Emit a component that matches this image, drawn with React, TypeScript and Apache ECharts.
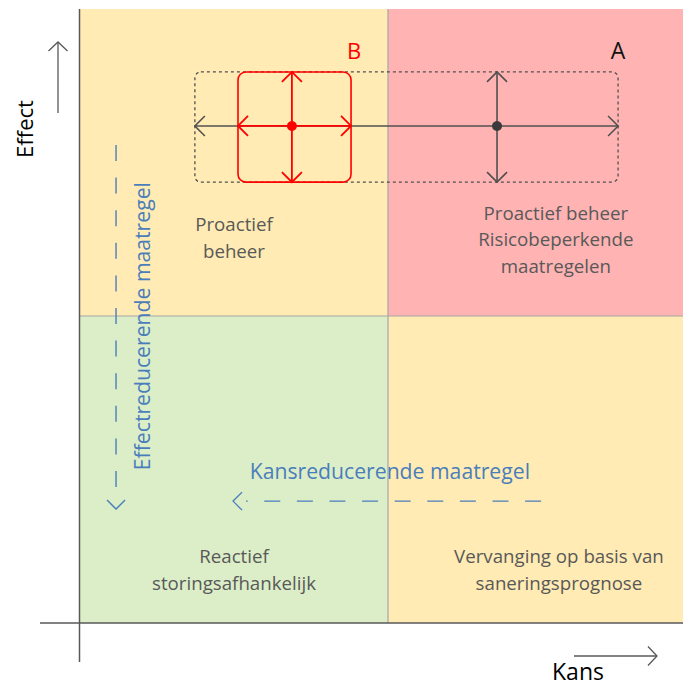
import { useEffect, useRef } from 'react';
import * as echarts from 'echarts';

// Axis domains: Kans (horizontal) and Effect (vertical); low/high split at 1
const kansDomain = [0, 2];
const effectDomain = [0, 2];
const splitAt = 1;

// Quadrants
const quadrantKans = [[0, 1], [1, 2], [0, 1], [1, 2]];
const quadrantEffect = [[1, 2], [1, 2], [0, 1], [0, 1]];
const quadrantLabels = [
  'Proactief\nbeheer',
  'Proactief beheer\nRisicobeperkende\nmaatregelen',
  'Reactief\nstoringsafhankelijk',
  'Vervanging op basis van\nsaneringsprognose',
];
const quadrantLabelKans = [0.5, 1.545, 0.5, 1.555];
const quadrantLabelEffect = [1.257, 1.251, 0.176, 0.176];

// Scenarios (point with uncertainty ranges)
const scenarioNames = ['A', 'B'];
const scenarioKans = [1.354, 0.688];
const scenarioEffect = [1.619, 1.619];
const scenarioKansRange = [[0.373, 1.747], [0.513, 0.88]];
const scenarioEffectRange = [[1.436, 1.795], [1.436, 1.795]];
const scenarioLabelKans = [1.747, 0.89];
const scenarioLabelEffect = [1.866, 1.866];

// Measures (dashed arrows)
const measureNames = ['Kansreducerende maatregel', 'Effectreducerende maatregel'];
const measureFrom = [[1.497, 0.397], [0.117, 1.557]];
const measureTo = [[0.497, 0.397], [0.117, 0.371]];
const measureLabelAt = [[1.006, 0.498], [0.201, 0.967]];

// Styles
const quadrantColors = ['#FFEBB3', '#FFB3B3', '#DCEEC8', '#FFEBB3'];
const scenarioStyles = [
  { color: '#505050', boxDash: [3, 3], boxWidth: 1.3, r: 6, lw: 1.6, labelColor: '#111111', labelSize: 23 },
  { color: '#FF0000', boxDash: null, boxWidth: 1.6, r: 8, lw: 1.8, labelColor: '#FF0000', labelSize: 22 },
];
const measureRotation = [0, Math.PI / 2];
const FONT = '"Open Sans", Lato, sans-serif';
const AXIS = '#595959';
const BLUE = '#4A7EBB';

function head(tip: number[], dir: number[], L: number, W: number) {
  const nx = -dir[1];
  const ny = dir[0];
  return [
    [tip[0] - dir[0] * L + nx * W, tip[1] - dir[1] * L + ny * W],
    [tip[0], tip[1]],
    [tip[0] - dir[0] * L - nx * W, tip[1] - dir[1] * L - ny * W],
  ];
}

function arrowHeadEl(tip: number[], dir: number[], color: string, lw: number, L = 10, W = 10) {
  return {
    type: 'polyline',
    shape: { points: head(tip, dir, L, W) },
    style: { stroke: color, lineWidth: lw, fill: 'none' },
  };
}

export default function App() {
  const ref = useRef<HTMLDivElement>(null);
  useEffect(() => {
    if (!ref.current) return;
    const chart = echarts.init(ref.current, null, { renderer: 'svg' });

    const quadrantData = quadrantKans.map((k, i) => [
      k[0], k[1], quadrantEffect[i][0], quadrantEffect[i][1],
      quadrantLabelKans[i], quadrantLabelEffect[i],
    ]);
    const scenarioData = scenarioNames.map((_, i) => [
      scenarioKans[i], scenarioEffect[i],
      scenarioKansRange[i][0], scenarioKansRange[i][1],
      scenarioEffectRange[i][0], scenarioEffectRange[i][1],
      scenarioLabelKans[i], scenarioLabelEffect[i],
    ]);
    const measureData = measureNames.map((_, i) => [
      measureFrom[i][0], measureFrom[i][1], measureTo[i][0], measureTo[i][1],
      measureLabelAt[i][0], measureLabelAt[i][1],
    ]);

    const option: any = {
      animation: false,
      grid: { left: 80, right: 0, top: 9, bottom: 65 },
      xAxis: { type: 'value', min: kansDomain[0], max: kansDomain[1], show: false },
      yAxis: { type: 'value', min: effectDomain[0], max: effectDomain[1], show: false },
      series: [
        {
          type: 'custom',
          name: 'quadrants',
          clip: false,
          encode: { x: [0, 1, 4], y: [2, 3, 5] },
          data: quadrantData,
          z: 1,
          renderItem: (params: any, api: any) => {
            const i = params.dataIndex;
            const p0 = api.coord([api.value(0), api.value(3)]);
            const p1 = api.coord([api.value(1), api.value(2)]);
            const lp = api.coord([api.value(4), api.value(5)]);
            return {
              type: 'group',
              children: [
                {
                  type: 'rect',
                  shape: { x: p0[0], y: p0[1], width: p1[0] - p0[0], height: p1[1] - p0[1] },
                  style: { fill: quadrantColors[i] },
                },
                {
                  type: 'text',
                  z2: 5,
                  style: {
                    text: quadrantLabels[i], x: lp[0], y: lp[1], align: 'center', verticalAlign: 'middle',
                    fill: '#595959', font: `18.7px ${FONT}`, lineHeight: 26.5,
                  },
                },
              ],
            };
          },
        },
        {
          type: 'custom',
          name: 'dividers',
          clip: false,
          data: [[splitAt, splitAt]],
          z: 2,
          renderItem: (_p: any, api: any) => {
            const v0 = api.coord([api.value(0), effectDomain[0]]);
            const v1 = api.coord([api.value(0), effectDomain[1]]);
            const h0 = api.coord([kansDomain[0], api.value(1)]);
            const h1 = api.coord([kansDomain[1], api.value(1)]);
            return {
              type: 'group',
              children: [
                { type: 'line', shape: { x1: v0[0], y1: v0[1], x2: v1[0], y2: v1[1] }, style: { stroke: '#A6A6A6', lineWidth: 1.2 } },
                { type: 'line', shape: { x1: h0[0], y1: h0[1], x2: h1[0], y2: h1[1] }, style: { stroke: '#A6A6A6', lineWidth: 1.2 } },
              ],
            };
          },
        },
        {
          type: 'custom',
          name: 'measures',
          clip: false,
          encode: { x: [0, 2, 4], y: [1, 3, 5] },
          data: measureData,
          z: 3,
          renderItem: (params: any, api: any) => {
            const i = params.dataIndex;
            const a = api.coord([api.value(0), api.value(1)]);
            const b = api.coord([api.value(2), api.value(3)]);
            const lp = api.coord([api.value(4), api.value(5)]);
            const len = Math.hypot(b[0] - a[0], b[1] - a[1]);
            const dir = [(b[0] - a[0]) / len, (b[1] - a[1]) / len];
            return {
              type: 'group',
              children: [
                {
                  type: 'line',
                  shape: { x1: a[0], y1: a[1], x2: b[0] - dir[0] * 13, y2: b[1] - dir[1] * 13 },
                  style: { stroke: BLUE, lineWidth: 1.4, lineDash: [16, 16.6] },
                },
                arrowHeadEl(b, dir, BLUE, 1.4, 9, 9),
                {
                  type: 'text',
                  x: lp[0],
                  y: lp[1],
                  rotation: measureRotation[i],
                  style: {
                    text: measureNames[i], x: 0, y: 0, align: 'center', verticalAlign: 'middle',
                    fill: BLUE, font: `21.2px ${FONT}`,
                  },
                },
              ],
            };
          },
        },
        {
          type: 'custom',
          name: 'scenarios',
          clip: false,
          encode: { x: [0, 2, 3, 6], y: [1, 4, 5, 7] },
          data: scenarioData,
          z: 4,
          renderItem: (params: any, api: any) => {
            const i = params.dataIndex;
            const st = scenarioStyles[i];
            const c = api.coord([api.value(0), api.value(1)]);
            const lt = api.coord([api.value(2), api.value(5)]);
            const rb = api.coord([api.value(3), api.value(4)]);
            const lp = api.coord([api.value(6), api.value(7)]);
            const lineStyle = { stroke: st.color, lineWidth: st.lw };
            return {
              type: 'group',
              children: [
                {
                  type: 'rect',
                  shape: { x: lt[0], y: lt[1], width: rb[0] - lt[0], height: rb[1] - lt[1], r: st.r },
                  style: { fill: 'none', stroke: st.color, lineWidth: st.boxWidth, lineDash: st.boxDash },
                },
                { type: 'line', shape: { x1: lt[0], y1: c[1], x2: rb[0], y2: c[1] }, style: lineStyle },
                { type: 'line', shape: { x1: c[0], y1: lt[1], x2: c[0], y2: rb[1] }, style: lineStyle },
                arrowHeadEl([lt[0], c[1]], [-1, 0], st.color, st.lw),
                arrowHeadEl([rb[0], c[1]], [1, 0], st.color, st.lw),
                arrowHeadEl([c[0], lt[1]], [0, -1], st.color, st.lw),
                arrowHeadEl([c[0], rb[1]], [0, 1], st.color, st.lw),
                { type: 'circle', shape: { cx: c[0], cy: c[1], r: 5 }, style: { fill: i === 0 ? '#3A3A3A' : st.color } },
                {
                  type: 'text',
                  style: {
                    text: scenarioNames[i], x: lp[0], y: lp[1], align: 'center', verticalAlign: 'middle',
                    fill: st.labelColor, font: `${st.labelSize}px ${FONT}`,
                  },
                },
              ],
            };
          },
        },
      ],
      graphic: [
        { type: 'line', z: 10, shape: { x1: 79.5, y1: 9, x2: 79.5, y2: 662 }, style: { stroke: AXIS, lineWidth: 1.5 } },
        { type: 'line', z: 10, shape: { x1: 40, y1: 623, x2: 696, y2: 623 }, style: { stroke: AXIS, lineWidth: 1.5 } },
        { type: 'line', z: 10, shape: { x1: 58, y1: 42, x2: 58, y2: 113 }, style: { stroke: AXIS, lineWidth: 1.3 } },
        { type: 'polyline', z: 10, shape: { points: head([58, 42], [0, -1], 9, 9.5) }, style: { stroke: AXIS, lineWidth: 1.3, fill: 'none' } },
        { type: 'line', z: 10, shape: { x1: 574, y1: 656, x2: 657, y2: 656 }, style: { stroke: AXIS, lineWidth: 1.3 } },
        { type: 'polyline', z: 10, shape: { points: head([657, 656], [1, 0], 9, 9.5) }, style: { stroke: AXIS, lineWidth: 1.3, fill: 'none' } },
        {
          type: 'text', z: 10, x: 24, y: 129, rotation: Math.PI / 2,
          style: { text: 'Effect', x: 0, y: 0, align: 'center', verticalAlign: 'middle', fill: '#000', font: `22px ${FONT}` },
        },
        {
          type: 'text', z: 10, x: 578, y: 671,
          style: { text: 'Kans', x: 0, y: 0, align: 'center', verticalAlign: 'middle', fill: '#000', font: `23px ${FONT}` },
        },
      ],
    };
    chart.setOption(option);
    return () => chart.dispose();
  }, []);

  return (
    <div style={{ position: 'absolute', left: 0, top: 0, width: 683, height: 688, overflow: 'hidden' }}>
      <div ref={ref} style={{ width: 696, height: 688 }} />
    </div>
  );
}
